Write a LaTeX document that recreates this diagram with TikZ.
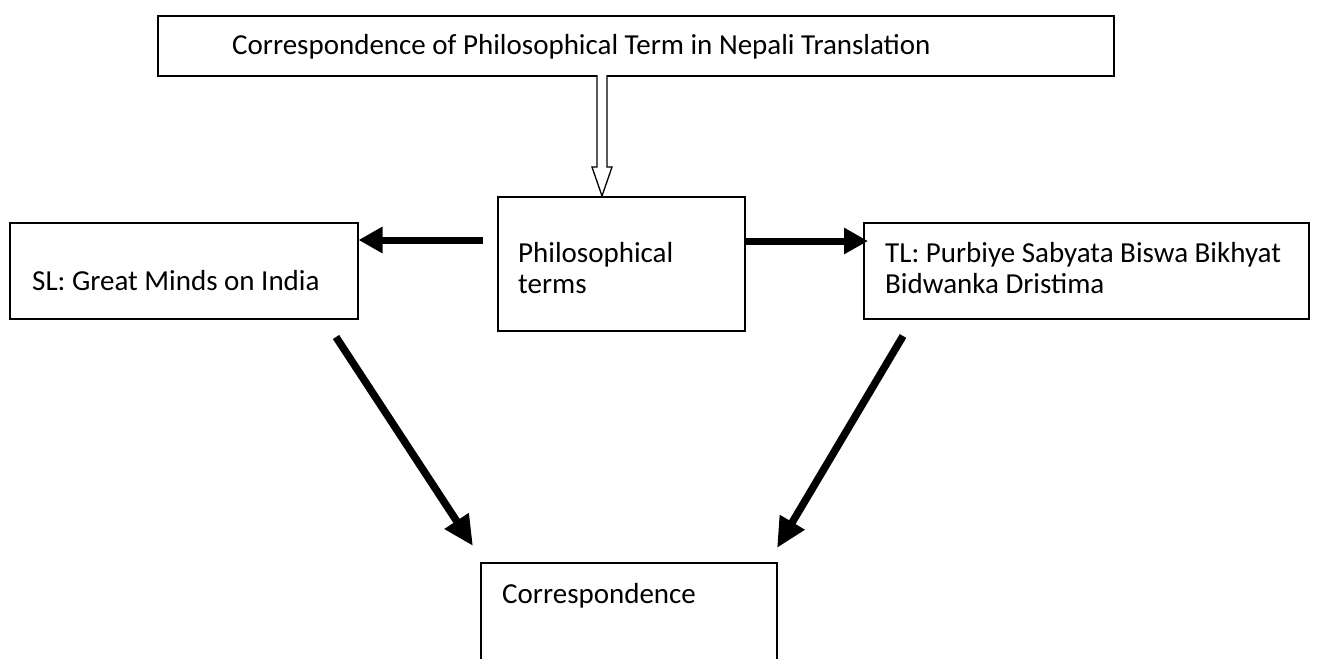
\documentclass[tikz,border=0pt]{standalone}
\usepackage{fontspec}
\setmainfont{Carlito}
\usetikzlibrary{arrows.meta}
\begin{document}
\begin{tikzpicture}[x=1pt,y=-1pt,
  box/.style={draw=black,line width=1.5pt,inner sep=0pt,anchor=north west},
  lbl/.style={inner sep=0pt,anchor=base west,font=\fontsize{29}{31}\selectfont},
  bigarrow/.style={line width=7pt,-{Triangle[length=24pt,width=25pt]}},
  diagarrow/.style={line width=7.5pt,-{Triangle[length=30pt,width=27pt]}},
  hollow/.style={draw=black,line width=1.3pt,fill=white}]
\useasboundingbox (0,0) rectangle (1341,659);
% boxes
\node[box,minimum width=956pt,minimum height=60pt] (top) at (157,15) {};
\node[box,minimum width=247pt,minimum height=134pt] (mid) at (497,196) {};
\node[box,minimum width=348pt,minimum height=96pt] (left) at (9,222) {};
\node[box,minimum width=445pt,minimum height=96pt] (right) at (863,222) {};
\coordinate (bl) at (481,659);
\coordinate (br) at (777,659);
\draw[line width=1.5pt] (bl) -- (481,563) coordinate (btl) -- (777,563) coordinate (btr) -- (br);
% texts
\node[lbl] (toptxt) at (232,54) {Correspondence of Philosophical Term in Nepali Translation};
\node[lbl] (midtxt1) at (518,262) {Philosophical};
\node[lbl] (midtxt2) at (518,293) {terms};
\node[lbl] (lefttxt) at (32,290) {SL: Great Minds on India};
\node[lbl] (righttxt1) at (885,262) {TL: Purbiye Sabyata Biswa Bikhyat};
\node[lbl] (righttxt2) at (885,293) {Bidwanka Dristima};
\node[lbl] (bottxt) at (502,603) {Correspondence};
% hollow arrow
\draw[hollow] (597,75) -- (597,167) -- (592,167) -- (602,196) -- (612,167) -- (607,167) -- (607,75);
% horizontal arrows
\coordinate (la) at (483,240);
\draw[bigarrow] (la) -- (left.east |- la);
\coordinate (ra) at (744,241);
\draw[bigarrow] (ra) -- ([xshift=5pt]right.west |- ra);
% diagonal arrows
\coordinate (dl1) at (336,337);
\coordinate (dl2) at (473,546);
\draw[diagarrow] (dl1) -- (dl2);
\coordinate (dr1) at (903,336);
\coordinate (dr2) at (777,548);
\draw[diagarrow] (dr1) -- (dr2);
\end{tikzpicture}
\end{document}
